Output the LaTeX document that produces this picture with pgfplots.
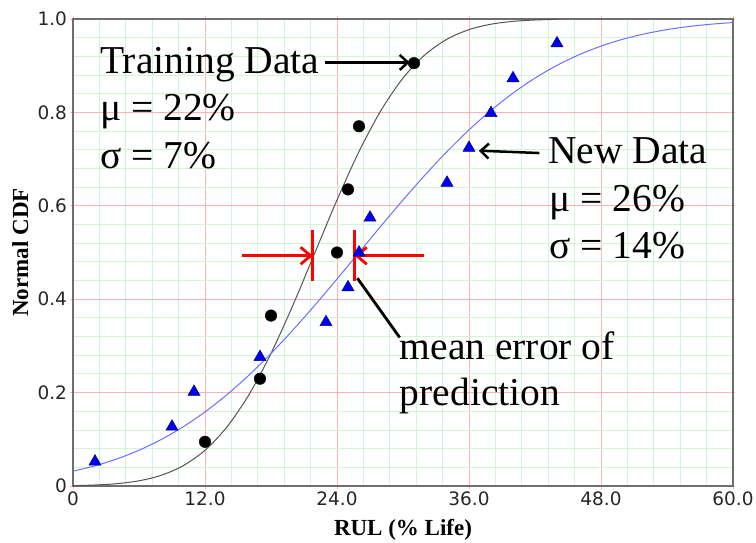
\documentclass[border=0pt]{standalone}
\usepackage{pgfplots}
\pgfplotsset{compat=1.18}
\usepackage{pgfplotstable}
\usepackage{fontspec}
\setmainfont{Liberation Serif}
\newfontfamily\ticksfont{DejaVu Sans}
\usetikzlibrary{arrows.meta}

\definecolor{majgrid}{RGB}{255,178,178}
\definecolor{mingrid}{RGB}{210,245,210}
\definecolor{trainline}{RGB}{85,85,85}
\definecolor{newline}{RGB}{110,110,255}
\definecolor{markblue}{RGB}{0,0,235}
\definecolor{frame}{RGB}{110,110,110}

\newcommand{\annot}{\fontsize{39.5}{47}\selectfont}

% ranked observations (median ranks)
\pgfplotstableread{
x y
12 0.0946
17 0.2297
18 0.3649
24 0.5000
25 0.6351
26 0.7703
31 0.9054
}\trainpts

\pgfplotstableread{
x y
2 0.0522
9 0.1269
11 0.2015
17 0.2761
23 0.3507
25 0.4254
26 0.5000
27 0.5746
34 0.6493
36 0.7239
38 0.7985
40 0.8731
44 0.9478
}\newpts

% fitted normal CDF, mu = 22, sigma = 7
\pgfplotstableread{
x y
0 0.00084
2 0.00214
4 0.00507
6 0.01113
8 0.02275
10 0.04324
12 0.07656
14 0.12654
16 0.19568
18 0.28386
20 0.38755
22 0.50000
24 0.61245
26 0.71614
28 0.80432
30 0.87346
32 0.92344
34 0.95676
36 0.97725
38 0.98887
40 0.99493
42 0.99786
44 0.99916
}\traincdf

% fitted normal CDF, mu = 26, sigma = 14
\pgfplotstableread{
x y
0 0.03166
2 0.04324
4 0.05804
6 0.07656
8 0.09927
10 0.12654
12 0.15866
14 0.19568
16 0.23753
18 0.28386
20 0.33412
22 0.38755
24 0.44319
26 0.50000
28 0.55681
30 0.61245
32 0.66588
34 0.71614
36 0.76247
38 0.80432
40 0.84134
42 0.87346
44 0.90073
46 0.92344
48 0.94196
50 0.95676
52 0.96834
54 0.97725
56 0.98393
58 0.98887
60 0.99242
}\newcdf

\begin{document}
\begin{tikzpicture}
\begin{axis}[
  at={(73pt,56pt)}, anchor=south west,
  scale only axis, width=660pt, height=467pt,
  xmin=0, xmax=60, ymin=0, ymax=1,
  clip=false,
  xtick={0,12,24,36,48,60},
  xticklabels={0,12.0,24.0,36.0,48.0,60.0},
  ytick={0,0.2,0.4,0.6,0.8,1},
  yticklabels={0,0.2,0.4,0.6,0.8,1.0},
  minor tick num=4,
  grid=both,
  major grid style={majgrid, line width=0.9pt},
  minor grid style={mingrid, line width=0.9pt},
  tick align=outside,
  major tick length=2.5pt,
  minor tick length=0pt,
  tick style={majgrid, line width=0.9pt},
  axis line style={frame, line width=1.3pt},
  ticklabel style={font=\ticksfont\fontsize{18.5}{20}\selectfont, text=black!85},
  xlabel={RUL (\% Life)},
  ylabel={Normal CDF},
  label style={font=\bfseries\fontsize{23}{25}\selectfont},
  xlabel style={at={(axis description cs:0.5,-0.107)}, anchor=base},
  ylabel style={at={(axis description cs:-0.068,0.5)}, anchor=base},
  axis on top=false,
]
\addplot[trainline, line width=1pt, smooth] table {\traincdf};
\addplot[newline, line width=1pt, smooth] table {\newcdf};

\addplot[only marks, mark=*, mark size=5.8pt, black] table {\trainpts};
\addplot[only marks, mark=triangle*, mark size=7pt,
  mark options={fill=markblue, draw=markblue!60!black, line width=0.5pt}] table {\newpts};

% mean error of prediction
\draw[red, line width=2.8pt, -{Straight Barb[length=10pt,width=17pt]}]
  (axis cs:15.4,0.493) -- (axis cs:21.8,0.493);
\draw[red, line width=2.8pt] (axis cs:21.8,0.439) -- (axis cs:21.8,0.548);
\draw[red, line width=2.8pt, -{Straight Barb[length=10pt,width=17pt]}]
  (axis cs:31.9,0.493) -- (axis cs:25.6,0.493);
\draw[red, line width=2.8pt] (axis cs:25.6,0.439) -- (axis cs:25.6,0.548);
\draw[black, line width=2.8pt] (axis cs:25.85,0.445) -- (axis cs:29.7,0.318);

% annotations
\draw[black, line width=2.5pt, -{Straight Barb[length=8pt,width=15pt]}]
  (axis cs:22.9,0.907) -- (axis cs:30.6,0.907);
\draw[black, line width=2.5pt, -{Straight Barb[length=8pt,width=15pt]}]
  (axis cs:42.4,0.713) -- (axis cs:36.9,0.718);

\node[anchor=base west, inner sep=0pt, font=\annot] at (axis cs:2.45,0.883) {Training Data};
\node[anchor=base west, inner sep=0pt, font=\annot] at (axis cs:2.45,0.782) {μ = 22\%};
\node[anchor=base west, inner sep=0pt, font=\annot] at (axis cs:2.45,0.680) {σ = 7\%};

\node[anchor=base west, inner sep=0pt, font=\annot] at (axis cs:43.2,0.691) {New Data};
\node[anchor=base west, inner sep=0pt, font=\annot] at (axis cs:43.3,0.587) {μ = 26\%};
\node[anchor=base west, inner sep=0pt, font=\annot] at (axis cs:43.3,0.488) {σ = 14\%};

\node[anchor=base west, inner sep=0pt, font=\annot] at (axis cs:29.7,0.270) {mean error of};
\node[anchor=base west, inner sep=0pt, font=\annot] at (axis cs:29.7,0.173) {prediction};
\end{axis}
\pgfresetboundingbox
\path[use as bounding box] (0,0) rectangle (756pt,542pt);
\end{tikzpicture}
\end{document}
